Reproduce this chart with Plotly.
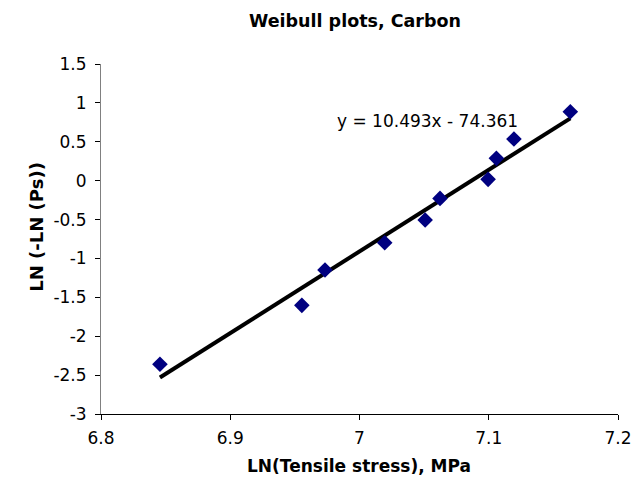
import plotly.graph_objects as go

# Data
ln_stress = [6.8456, 6.9554, 6.9733, 7.0195, 7.0508, 7.0623, 7.0995, 7.1059, 7.1195, 7.1631]
ln_ln_ps = [-2.36, -1.603, -1.149, -0.798, -0.506, -0.228, 0.017, 0.287, 0.535, 0.886]
slope = 10.493
intercept = -74.361
x_ticks = [6.8, 6.9, 7.0, 7.1, 7.2]
x_tick_text = ["6.8", "6.9", "7", "7.1", "7.2"]
y_ticks = [1.5, 1, 0.5, 0, -0.5, -1, -1.5, -2, -2.5, -3]

x_line = [min(ln_stress), max(ln_stress)]
y_line = [slope * v + intercept for v in x_line]

FONT = "DejaVu Sans, Liberation Sans, Arial, sans-serif"

# plot-area geometry (pixels)
L, R, T, B = 100.7, 23.3, 64, 70
PW, PH = 644 - L - R, 484 - T - B

fig = go.Figure()
fig.add_trace(go.Scatter(
    x=x_line, y=y_line, mode="lines",
    line=dict(color="black", width=4), showlegend=False, hoverinfo="skip"))
fig.add_trace(go.Scatter(
    x=ln_stress, y=ln_ln_ps, mode="markers",
    marker=dict(symbol="diamond", size=12, color="#000080", line=dict(width=0)),
    showlegend=False))

fig.add_annotation(
    x=7.0525, y=0.77, xref="x", yref="y", showarrow=False,
    text=f"y = {slope}x - {abs(intercept)}",
    font=dict(family=FONT, size=17, color="black"))

# axis titles (positions converted from pixels to plot-area fractions)
fig.add_annotation(
    x=(360 - L) / PW, y=(484 - B - 466) / PH, xref="paper", yref="paper",
    xanchor="center", yanchor="middle", showarrow=False,
    text="<b>LN(Tensile stress), MPa</b>",
    font=dict(family=FONT, size=17, color="black"))
fig.add_annotation(
    x=(35 - L) / PW, y=(484 - B - 227) / PH, xref="paper", yref="paper",
    xanchor="center", yanchor="middle", showarrow=False, textangle=-90,
    text="<b>LN (-LN (Ps))</b>",
    font=dict(family=FONT, size=18, color="black"))

fig.update_layout(
    width=644, height=484,
    margin=dict(l=L, r=R, t=T, b=B),
    paper_bgcolor="white", plot_bgcolor="white",
    font=dict(family=FONT, size=17, color="black"),
    title=dict(text="<b>Weibull plots, Carbon</b>", x=355 / 644, xanchor="center",
               xref="container", yref="container", y=1 - 21 / 484, yanchor="middle",
               font=dict(family=FONT, size=17.5, color="black")),
)

fig.update_xaxes(
    range=[6.8, 7.2], tickvals=x_ticks, ticktext=x_tick_text,
    showgrid=False, zeroline=False, showline=True, linecolor="black", linewidth=1,
    ticks="outside", ticklen=5, tickcolor="black", tickfont=dict(size=17),
    ticklabelstandoff=4,
)
fig.update_yaxes(
    range=[-3, 1.5], tickvals=y_ticks, ticktext=[str(v) for v in y_ticks],
    showgrid=False, zeroline=False, showline=True, linecolor="#808080", linewidth=1,
    ticks="outside", ticklen=5, tickcolor="black", tickfont=dict(size=17),
    ticklabelstandoff=5,
)

fig.write_html("out.html")
